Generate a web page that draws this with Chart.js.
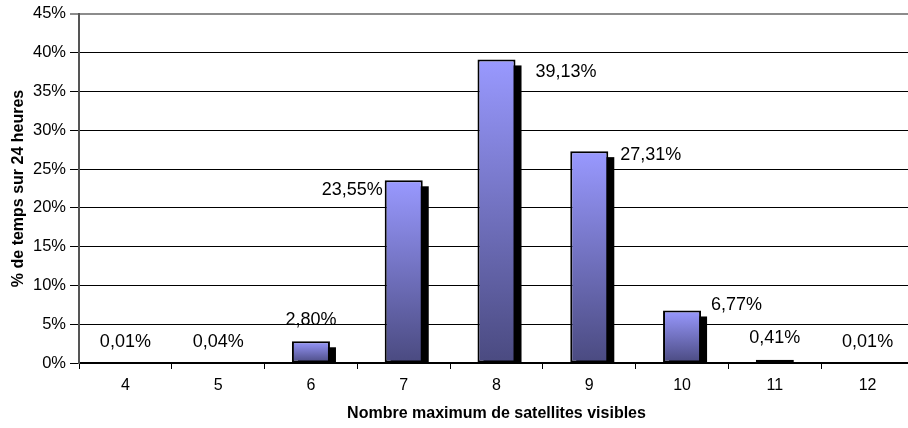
<!DOCTYPE html>
<html>
<head>
<meta charset="utf-8">
<script src="https://cdn.jsdelivr.net/npm/chart.js@4.4.1/dist/chart.umd.min.js"></script>
<style>
  html, body { margin: 0; padding: 0; background: #fff; overflow: hidden; }
  #wrap { width: 908px; height: 428px; overflow: hidden; }
  canvas { display: block; }
</style>
</head>
<body>
<div id="wrap"><canvas id="c" width="915" height="428"></canvas></div>
<script>
// Nombre maximum de satellites visibles -> % de temps sur 24 heures
const categories = ['4', '5', '6', '7', '8', '9', '10', '11', '12'];
const percentTime = [0.01, 0.04, 2.80, 23.55, 39.13, 27.31, 6.77, 0.41, 0.01];
const yTicks = [0, 5, 10, 15, 20, 25, 30, 35, 40, 45];

// where each value label sits relative to its bar
const labelPlacement = [
  { side: 'top', dx: 0, dy: -21 },
  { side: 'top', dx: 0, dy: -21 },
  { side: 'top', dx: 0, dy: -21 },
  { side: 'left', dx: -2, dy: 10 },
  { side: 'right', dx: 20, dy: 13 },
  { side: 'right', dx: 12, dy: 4 },
  { side: 'right', dx: 10, dy: -5 },
  { side: 'top', dx: 0, dy: -22 },
  { side: 'top', dx: 0, dy: -21 }
];

const FONT = '"Liberation Sans", Arial, Helvetica, sans-serif';
const fmt = v => v.toFixed(2).replace('.', ',') + '%';

// Each bar gets its own vertical gradient, light at the top, dark at the base
function barGradient(ctx) {
  const chart = ctx.chart;
  const y = chart.scales.y;
  if (!chart.chartArea || !y || ctx.dataIndex === undefined) return '#9999ff';
  const top = y.getPixelForValue(percentTime[ctx.dataIndex]);
  const base = y.getPixelForValue(0);
  const g = chart.ctx.createLinearGradient(0, top, 0, Math.max(base, top + 1));
  g.addColorStop(0, '#9999ff');
  g.addColorStop(1, '#4a4a80');
  return g;
}

// Hard black drop shadow behind every bar
const barShadow = {
  id: 'barShadow',
  beforeDatasetsDraw(chart) {
    const { ctx, chartArea } = chart;
    const meta = chart.getDatasetMeta(0);
    ctx.save();
    ctx.beginPath();
    ctx.rect(chartArea.left, chartArea.top, chartArea.right - chartArea.left, chartArea.bottom - chartArea.top);
    ctx.clip();
    ctx.fillStyle = '#000';
    meta.data.forEach(bar => {
      const h = bar.base - bar.y;
      if (h < 1) return;
      const off = 6;
      ctx.fillRect(bar.x - bar.width / 2 + off, bar.y + off, bar.width, h);
    });
    ctx.restore();
  }
};

// Value labels in French number format
const valueLabels = {
  id: 'valueLabels',
  afterDatasetsDraw(chart) {
    const { ctx } = chart;
    const meta = chart.getDatasetMeta(0);
    ctx.save();
    ctx.font = '18px ' + FONT;
    ctx.fillStyle = '#000';
    ctx.textBaseline = 'middle';
    meta.data.forEach((bar, i) => {
      const p = labelPlacement[i];
      const text = fmt(percentTime[i]);
      let x, align;
      if (p.side === 'left') { x = bar.x - bar.width / 2 + p.dx; align = 'right'; }
      else if (p.side === 'right') { x = bar.x + bar.width / 2 + p.dx; align = 'left'; }
      else { x = bar.x + p.dx; align = 'center'; }
      ctx.textAlign = align;
      ctx.fillText(text, x, bar.y + p.dy);
    });
    ctx.restore();
  }
};

new Chart(document.getElementById('c'), {
  type: 'bar',
  data: {
    labels: categories,
    datasets: [{
      data: percentTime,
      backgroundColor: barGradient,
      borderColor: '#000',
      borderWidth: 2,
      borderSkipped: false,
      categoryPercentage: 1,
      barPercentage: 0.41
    }]
  },
  options: {
    responsive: false,
    animation: false,
    layout: { padding: { top: 13, right: 1, left: 0, bottom: 0 } },
    plugins: { legend: { display: false }, tooltip: { enabled: false } },
    scales: {
      x: {
        offset: true,
        grid: { offset: true, drawOnChartArea: false, drawTicks: true, tickLength: 6, color: '#000', lineWidth: 1 },
        border: { color: '#000', width: 1.5 },
        ticks: { color: '#000', font: { family: FONT, size: 16 }, padding: 7, maxRotation: 0 },
        title: { display: true, text: 'Nombre maximum de satellites visibles', color: '#000',
                 font: { family: FONT, size: 16, weight: 'bold' }, padding: { top: 0, bottom: 5 } },
        afterFit(s) { s.height = 65; }
      },
      y: {
        min: 0, max: 45,
        afterBuildTicks(s) { s.ticks = yTicks.map(v => ({ value: v })); },
        grid: {
          color: c => (c.tick && c.tick.value === 45) ? '#8c8c8c' : '#000',
          lineWidth: c => (c.tick && c.tick.value === 45) ? 2 : 1,
          tickLength: 9
        },
        border: { color: '#555', width: 2 },
        ticks: { color: '#000', font: { family: FONT, size: 16.5 }, padding: 4,
                 callback: v => v + '%' },
        title: { display: true, text: '% de temps sur 24 heures', color: '#000',
                 font: { family: FONT, size: 16, weight: 'bold' }, padding: 9 },
        afterFit(s) { s.width = 79; }
      }
    }
  },
  plugins: [barShadow, valueLabels]
});
</script>
</body>
</html>
